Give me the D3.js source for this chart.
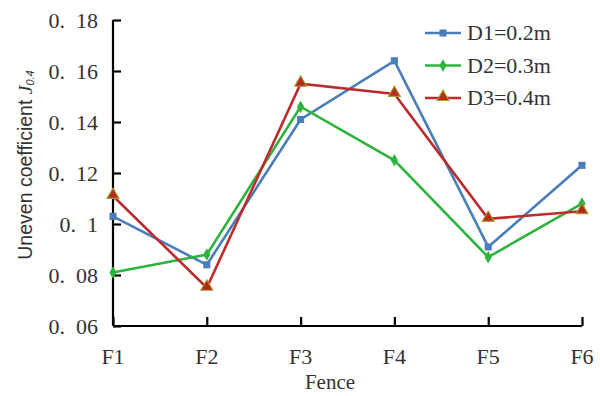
<!DOCTYPE html>
<html>
<head>
<meta charset="utf-8">
<script src="https://cdn.jsdelivr.net/npm/d3@7/dist/d3.min.js"></script>
<style>
  body { margin: 0; background: #fff; }
  svg { display: block; font-family: "Liberation Serif", "DejaVu Serif", serif; }
</style>
</head>
<body>
<svg></svg>
<script>
// chart values
const fences = ["F1", "F2", "F3", "F4", "F5", "F6"];
const valuesD1 = [0.103, 0.084, 0.141, 0.164, 0.091, 0.123];
const valuesD2 = [0.081, 0.088, 0.146, 0.125, 0.087, 0.108];
const valuesD3 = [0.111, 0.075, 0.155, 0.151, 0.102, 0.105];
const seriesNames = ["D1=0.2m", "D2=0.3m", "D3=0.4m"];
const yTicks = [0.06, 0.08, 0.1, 0.12, 0.14, 0.16, 0.18];

const width = 600, height = 396;
const margin = { top: 20, right: 18, bottom: 70, left: 113 };

const svg = d3.select("svg").attr("width", width).attr("height", height);

const x = d3.scalePoint().domain(fences).range([margin.left, width - margin.right]);
const y = d3.scaleLinear().domain([0.06, 0.18]).range([height - margin.bottom, margin.top]);

// axes
const fmt = v => d3.format(".2~f")(v).replace(".", ".\u2002");

const yAxis = svg.append("g")
  .attr("transform", `translate(${margin.left},0)`)
  .call(d3.axisRight(y).tickValues(yTicks).tickSize(8).tickFormat(fmt));
yAxis.select(".domain").attr("stroke", "#000").attr("stroke-width", 2.2).attr("d", `M0,${y(0.18)}V${y(0.06)}`);
yAxis.selectAll(".tick line").attr("stroke", "#000").attr("stroke-width", 2.2);
yAxis.selectAll(".tick text")
  .attr("x", -15).attr("dy", "0.35em").attr("text-anchor", "end")
  .attr("font-size", 22).attr("fill", "#333")
  .attr("font-family", "Liberation Serif, serif");

const xAxis = svg.append("g")
  .attr("transform", `translate(0,${height - margin.bottom})`)
  .call(d3.axisTop(x).tickSize(9).tickFormat(""));
xAxis.select(".domain").attr("stroke", "#000").attr("stroke-width", 2.2)
  .attr("d", `M${margin.left},0H${width - margin.right}`);
xAxis.selectAll(".tick line").attr("stroke", "#000").attr("stroke-width", 2.2);

svg.append("g").selectAll("text")
  .data(fences)
  .join("text")
  .attr("x", d => x(d))
  .attr("y", height - margin.bottom + 38)
  .attr("text-anchor", "middle")
  .attr("font-size", 22).attr("fill", "#333")
  .text(d => d);

svg.append("text")
  .attr("x", 330)
  .attr("y", height - 7)
  .attr("text-anchor", "middle")
  .attr("font-size", 21).attr("fill", "#333")
  .text("Fence");

const yl = svg.append("text")
  .attr("transform", `translate(32,165) rotate(-90)`)
  .attr("text-anchor", "middle")
  .attr("font-family", "Liberation Sans, Arial, sans-serif")
  .attr("font-size", 19.5).attr("fill", "#333");
yl.append("tspan").text("Uneven coefficient ");
yl.append("tspan").attr("font-style", "italic").attr("font-family", "Liberation Serif, serif").text("J");
yl.append("tspan").attr("font-style", "italic").attr("font-size", 11).attr("dy", 2).text("0.4");

// series
const series = [
  { name: seriesNames[0], values: valuesD1, color: "#4a7ebb", marker: "square" },
  { name: seriesNames[1], values: valuesD2, color: "#2fb33f", marker: "diamond" },
  { name: seriesNames[2], values: valuesD3, color: "#be2b2b", marker: "triangle" }
];

const line = d3.line().x((d, i) => x(fences[i])).y(d => y(d));

function marker(g, s, cx, cy) {
  if (s.marker === "square") {
    g.append("path").attr("d", d3.symbol(d3.symbolSquare, 50)()).attr("transform", `translate(${cx},${cy})`)
      .attr("fill", s.color);
  } else if (s.marker === "diamond") {
    g.append("path").attr("d", d3.symbol(d3.symbolDiamond, 45)()).attr("transform", `translate(${cx},${cy})`)
      .attr("fill", s.color);
  } else {
    g.append("path").attr("d", d3.symbol(d3.symbolTriangle, 62)()).attr("transform", `translate(${cx},${cy - 1})`)
      .attr("fill", "#b8281f").attr("stroke", "#a0a030").attr("stroke-width", 1.1);
  }
}

series.forEach(s => {
  svg.append("path")
    .datum(s.values)
    .attr("fill", "none")
    .attr("stroke", s.color)
    .attr("stroke-width", 2.6)
    .attr("d", line);
  const g = svg.append("g");
  s.values.forEach((v, i) => marker(g, s, x(fences[i]), y(v)));
});

// legend
const legend = svg.append("g").attr("transform", "translate(425,33)");
series.forEach((s, i) => {
  const row = legend.append("g").attr("transform", `translate(0,${i * 32.5})`);
  row.append("line").attr("x1", 0).attr("x2", 36).attr("y1", 0).attr("y2", 0)
    .attr("stroke", s.color).attr("stroke-width", 2.6);
  marker(row, s, 18, 0);
  row.append("text").attr("x", 42).attr("y", 7)
    .attr("font-size", 22).attr("fill", "#333")
    .text(s.name);
});
</script>
</body>
</html>
